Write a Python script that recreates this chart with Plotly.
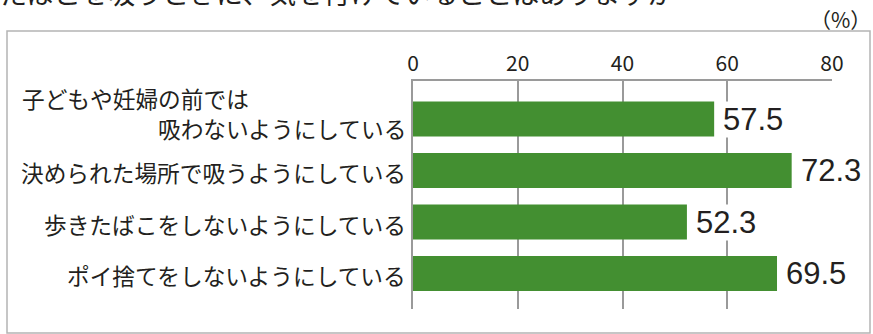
import plotly.graph_objects as go

title_text = "たばこを吸うときに、気を付けていることはありますか"
unit_text = "（%）"
categories = [
    "子どもや妊婦の前では<br>吸わないようにしている",
    "決められた場所で吸うようにしている",
    "歩きたばこをしないようにしている",
    "ポイ捨てをしないようにしている",
]
values = [57.5, 72.3, 52.3, 69.5]
x_ticks = [0, 20, 40, 60, 80]

GREEN = "#438f31"
TEXT = "#231f20"
GRID = "#9a9a9a"
JP = "Noto Sans CJK JP"

W, H = 873, 334
L, R, T, B = 413, 41, 81, 25
PW, PH = W - L - R, H - T - B

def px_x(px):
    return (px - L) / PW

def px_y(py):
    return (H - B - py) / PH

fig = go.Figure()
fig.add_trace(go.Bar(
    x=values, y=categories, orientation="h",
    marker=dict(color=GREEN, line=dict(width=0)),
    width=0.68, hoverinfo="skip",
))

annotations = []
for cat, v in zip(categories, values):
    lines = cat.split("<br>")
    if len(lines) == 1:
        annotations.append(dict(
            x=0, y=cat, xref="x", yref="y", text=cat, showarrow=False,
            xanchor="right", yanchor="middle", xshift=-5, yshift=-2,
            font=dict(family=JP, size=22.7, color=TEXT)))
    else:
        annotations.append(dict(
            x=0, y=cat, xref="x", yref="y", text=lines[0], showarrow=False,
            xanchor="left", yanchor="middle", xshift=-393, yshift=21,
            font=dict(family=JP, size=22.7, color=TEXT)))
        annotations.append(dict(
            x=0, y=cat, xref="x", yref="y", text=lines[1], showarrow=False,
            xanchor="right", yanchor="middle", xshift=-5, yshift=-9,
            font=dict(family=JP, size=22.7, color=TEXT)))
    annotations.append(dict(
        x=v, y=cat, xref="x", yref="y", text=f"{v:.1f}", showarrow=False,
        xanchor="left", yanchor="middle", xshift=8, yshift=0,
        bgcolor="white", borderpad=0,
        font=dict(family="Liberation Sans, Arial", size=31, color=TEXT)))

annotations.append(dict(
    x=px_x(-2), y=px_y(-8), xref="paper", yref="paper", text=title_text,
    showarrow=False, xanchor="left", yanchor="middle",
    font=dict(family=JP, size=27, color=TEXT)))
annotations.append(dict(
    x=px_x(873), y=px_y(19), xref="paper", yref="paper", text=unit_text,
    showarrow=False, xanchor="right", yanchor="middle",
    font=dict(family=JP, size=21, color=TEXT)))

fig.update_layout(
    width=W, height=H,
    margin=dict(l=L, r=R, t=T, b=B, pad=0),
    paper_bgcolor="white", plot_bgcolor="white",
    showlegend=False,
    annotations=annotations,
    shapes=[dict(type="rect", xref="paper", yref="paper",
                 x0=px_x(7), x1=px_x(870), y0=px_y(333), y1=px_y(31),
                 line=dict(color="#b4b4b4", width=1.5), layer="below")],
    xaxis=dict(
        side="top", range=[0, 80], tickvals=x_ticks,
        ticktext=[str(t) for t in x_ticks],
        showgrid=True, gridcolor=GRID, gridwidth=2,
        showline=True, linecolor=GRID, linewidth=2,
        ticks="", zeroline=False, ticklabelstandoff=0,
        tickfont=dict(family=JP, size=21, color=TEXT),
        fixedrange=True,
    ),
    yaxis=dict(
        type="category", range=[3.69, -0.74],
        showticklabels=False, showgrid=False,
        showline=True, linecolor=GRID, linewidth=2,
        ticks="", zeroline=False, fixedrange=True,
    ),
)

fig.write_html("out.html", config={"displayModeBar": False})
